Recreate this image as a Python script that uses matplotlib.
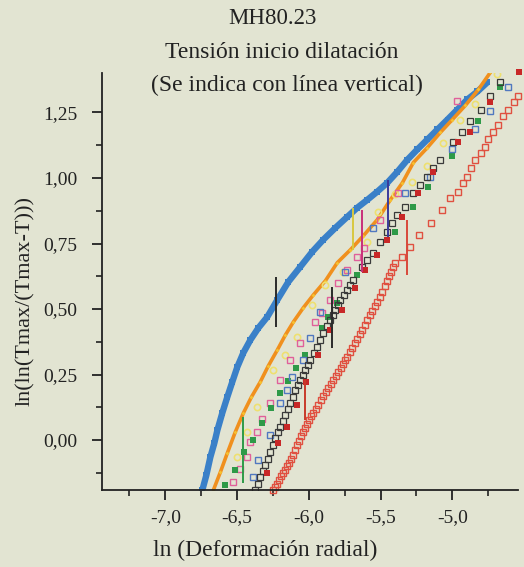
import matplotlib
matplotlib.use("Agg")
import matplotlib.pyplot as plt
from matplotlib.ticker import FixedLocator

plt.rcParams['font.family'] = ['Liberation Serif', 'DejaVu Serif']

# ---- data ----
blue_x = [-6.742, -6.714, -6.686, -6.658, -6.637, -6.603, -6.568, -6.533, -6.498, -6.456, -6.407,
          -6.351, -6.289, -6.219, -6.142, -6.059, -5.975, -5.898, -5.814, -5.731, -5.661, -5.591,
          -5.522, -5.452, -5.382, -5.312, -5.243, -5.173, -5.103, -5.033, -4.964, -4.894, -4.824, -4.755]
blue_y = [-0.191, -0.134, -0.065, -0.011, 0.038, 0.103, 0.164, 0.222, 0.279, 0.333, 0.382,
          0.428, 0.470, 0.535, 0.604, 0.661, 0.719, 0.765, 0.810, 0.852, 0.887, 0.917,
          0.948, 0.982, 1.024, 1.070, 1.109, 1.147, 1.185, 1.223, 1.261, 1.300, 1.330, 1.365]

orange_x = [-6.665, -6.616, -6.568, -6.512, -6.456, -6.400, -6.338, -6.282, -6.219, -6.163, -6.107,
            -6.038, -5.968, -5.884, -5.801, -5.710, -5.619, -5.522, -5.431, -5.347, -5.271, -5.173,
            -5.082, -4.999, -4.908, -4.817, -4.734]
orange_y = [-0.191, -0.122, -0.050, 0.031, 0.103, 0.164, 0.222, 0.283, 0.344, 0.401, 0.451,
            0.505, 0.554, 0.608, 0.677, 0.726, 0.780, 0.841, 0.917, 0.982, 1.059, 1.116,
            1.174, 1.223, 1.277, 1.338, 1.403]

yellow_x = [-6.498, -6.428, -6.358, -6.247, -6.163, -6.079, -5.975, -5.884, -5.759, -5.591, -5.515,
            -5.396, -5.278, -5.173, -5.061, -4.943, -4.838, -4.685]
yellow_y = [-0.065, 0.031, 0.126, 0.268, 0.325, 0.394, 0.516, 0.593, 0.642, 0.757, 0.872,
            0.937, 0.986, 1.044, 1.135, 1.223, 1.281, 1.395]

pink_x = [-6.526, -6.477, -6.428, -6.407, -6.358, -6.324, -6.268, -6.198, -6.128, -6.059, -5.954,
          -5.905, -5.849, -5.794, -5.731, -5.661, -5.612, -5.501, -5.375, -4.964]
pink_y = [-0.161, -0.111, -0.065, -0.008, 0.031, 0.080, 0.141, 0.229, 0.306, 0.371, 0.451,
          0.485, 0.535, 0.600, 0.650, 0.700, 0.734, 0.841, 0.944, 1.292]

green_x = [-6.582, -6.512, -6.449, -6.386, -6.324, -6.261, -6.198, -6.142, -6.086, -6.024, -5.905,
           -5.863, -5.801, -5.661, -5.522, -5.396, -5.271, -5.166, -4.999, -4.817, -4.664]
green_y = [-0.172, -0.115, -0.046, 0.000, 0.065, 0.122, 0.180, 0.226, 0.275, 0.325, 0.428,
           0.470, 0.524, 0.631, 0.707, 0.795, 0.891, 0.967, 1.082, 1.216, 1.346]

lblue_x = [-6.386, -6.351, -6.268, -6.198, -6.149, -6.114, -6.038, -5.989, -5.919, -5.745, -5.550,
           -5.326, -5.152, -4.999, -4.838, -4.734, -4.608]
lblue_y = [-0.141, -0.076, 0.019, 0.141, 0.191, 0.241, 0.306, 0.390, 0.489, 0.642, 0.810,
           0.944, 1.005, 1.109, 1.185, 1.254, 1.346]

black_x = [-6.372, -6.355, -6.338, -6.320, -6.303, -6.286, -6.268, -6.250, -6.233, -6.215, -6.198,
           -6.180, -6.163, -6.145, -6.128, -6.110, -6.093, -6.076, -6.059, -6.041, -6.024, -6.006,
           -5.989, -5.965, -5.940, -5.919, -5.898, -5.873, -5.849, -5.832, -5.815, -5.797, -5.780,
           -5.755, -5.731, -5.710, -5.689, -5.626, -5.591, -5.550, -5.501, -5.452, -5.417, -5.382,
           -5.326, -5.271, -5.222, -5.173, -5.131, -5.082, -4.992, -4.929, -4.873, -4.803, -4.734,
           -4.664]
black_y = [-0.191, -0.166, -0.141, -0.118, -0.096, -0.071, -0.046, -0.019, 0.008, 0.029, 0.050,
           0.073, 0.096, 0.118, 0.141, 0.166, 0.191, 0.210, 0.229, 0.248, 0.268, 0.287,
           0.306, 0.331, 0.356, 0.383, 0.409, 0.434, 0.459, 0.478, 0.497, 0.516, 0.535,
           0.554, 0.573, 0.592, 0.612, 0.661, 0.688, 0.715, 0.757, 0.795, 0.830, 0.860,
           0.891, 0.944, 0.975, 1.005, 1.040, 1.070, 1.139, 1.174, 1.216, 1.261, 1.311,
           1.365]

dred_x = [-6.289, -6.212, -6.149, -6.079, -6.017, -5.933, -5.849, -5.766, -5.675, -5.605, -5.522,
          -5.452, -5.347, -5.236, -5.131, -4.957, -4.873, -4.734, -4.538]
dred_y = [-0.126, -0.011, 0.050, 0.134, 0.222, 0.325, 0.420, 0.497, 0.581, 0.650, 0.707,
          0.765, 0.852, 0.944, 1.021, 1.139, 1.174, 1.288, 1.403]

red_x = [-6.247, -6.233, -6.219, -6.205, -6.191, -6.177, -6.163, -6.149, -6.135, -6.121, -6.107,
         -6.093, -6.079, -6.066, -6.052, -6.038, -6.024, -6.010, -5.996, -5.982, -5.968, -5.950,
         -5.933, -5.915, -5.898, -5.880, -5.863, -5.845, -5.828, -5.811, -5.794, -5.776, -5.759,
         -5.745, -5.731, -5.713, -5.696, -5.678, -5.661, -5.643, -5.626, -5.608, -5.591, -5.573,
         -5.556, -5.539, -5.522, -5.504, -5.487, -5.470, -5.452, -5.438, -5.424, -5.410, -5.396,
         -5.347, -5.291, -5.229, -5.145, -5.068, -5.013, -4.957, -4.922, -4.894, -4.866, -4.838,
         -4.803, -4.775, -4.748, -4.713, -4.678, -4.643, -4.608, -4.573, -4.545]
red_y = [-0.191, -0.178, -0.168, -0.152, -0.138, -0.127, -0.115, -0.100, -0.088, -0.073, -0.057,
         -0.037, -0.019, -0.002, 0.015, 0.031, 0.046, 0.062, 0.076, 0.090, 0.103, 0.119,
         0.134, 0.152, 0.168, 0.184, 0.199, 0.214, 0.229, 0.245, 0.260, 0.276, 0.291,
         0.304, 0.317, 0.335, 0.352, 0.369, 0.386, 0.403, 0.420, 0.440, 0.459, 0.476,
         0.493, 0.511, 0.528, 0.547, 0.566, 0.587, 0.608, 0.625, 0.642, 0.660, 0.677,
         0.700, 0.738, 0.784, 0.830, 0.879, 0.925, 0.948, 0.982, 1.005, 1.040, 1.070,
         1.097, 1.120, 1.147, 1.177, 1.204, 1.235, 1.261, 1.288, 1.311]

# start-of-dilatancy markers (vertical lines)
vline_x = [-6.226, -6.456, -6.024, -5.835, -5.689, -5.626, -5.445, -5.312]
vline_lo = [0.432, -0.164, 0.076, 0.352, 0.726, 0.642, 0.776, 0.631]
vline_hi = [0.623, 0.088, 0.229, 0.585, 0.887, 0.879, 0.994, 0.841]
vline_col = ['#2a2a2a', '#2e9a48', '#c83a2a', '#2a2a2a', '#d8c840', '#c8307a', '#3a3a9a', '#d8483a']

xticks = [-7.0, -6.5, -6.0, -5.5, -5.0]
xticklabels = ['-7,0', '-6,5', '-6,0', '-5,5', '-5,0']
yticks = [0.0, 0.25, 0.5, 0.75, 1.0, 1.25]
yticklabels = ['0,00', '0,25', '0,50', '0,75', '1,00', '1,25']

bg = '#e2e4d2'
ink = '#222222'

fig = plt.figure(figsize=(5.24, 5.67), dpi=100, facecolor=bg)
ax = fig.add_axes([0.195, 0.136, 0.794, 0.735], facecolor=bg)

# series
ax.plot(blue_x, blue_y, '-', color='#3a80c8', lw=4.6, solid_capstyle='butt')
ax.plot(blue_x, blue_y, 's', color='#3a80c8', ms=4, mew=0)
ax.plot(orange_x, orange_y, '-', color='#f0901e', lw=2.6)
ax.plot(orange_x, orange_y, 'D', color='#f5c030', ms=2.0, mew=0)
ax.plot(yellow_x, yellow_y, 'o', mfc='none', mec='#eee070', ms=4.5, mew=1.2)
ax.plot(pink_x, pink_y, 's', mfc='none', mec='#e0609a', ms=4.2, mew=1.0)
ax.plot(green_x, green_y, 's', color='#2e9a48', ms=4.2, mew=0)
ax.plot(lblue_x, lblue_y, 's', mfc='none', mec='#5078c0', ms=4.6, mew=1.0)
ax.plot(black_x, black_y, 's', mfc='none', mec='#3a3a3a', ms=4.0, mew=0.9)
ax.plot(dred_x, dred_y, 's', color='#c82828', ms=4.2, mew=0, clip_on=False)
ax.plot(red_x, red_y, 's', mfc='none', mec='#e05040', ms=4.2, mew=1.0, clip_on=False)

for x, lo, hi, c in zip(vline_x, vline_lo, vline_hi, vline_col):
    ax.vlines(x, lo, hi, colors=c, lw=1.4)

ax.set_xlim(-7.44, -4.54)
ax.set_ylim(-0.19, 1.40)

for s in ['top', 'right']:
    ax.spines[s].set_visible(False)
for s in ['left', 'bottom']:
    ax.spines[s].set_color(ink)
    ax.spines[s].set_linewidth(1.3)

ax.xaxis.set_major_locator(FixedLocator(xticks))
ax.set_xticklabels(xticklabels)
ax.xaxis.set_minor_locator(FixedLocator([-7.25, -6.75, -6.25, -5.75, -5.25, -4.75]))
ax.yaxis.set_major_locator(FixedLocator(yticks))
ax.set_yticklabels(yticklabels)
ax.yaxis.set_minor_locator(FixedLocator([-0.125, 0.125, 0.375, 0.625, 0.875, 1.125]))

ax.tick_params(which='major', length=7, width=1.3, color=ink, labelsize=14,
               labelcolor=ink)
ax.tick_params(axis='x', which='major', pad=7)
ax.tick_params(axis='y', which='major', pad=11)
ax.tick_params(which='minor', length=4, width=1.2, color=ink)

fig.text(0.506, 0.030, 'ln (Deformación radial)', ha='center', va='center', fontsize=17, color=ink)
fig.text(0.048, 0.47, 'ln(ln(Tmax/(Tmax-T)))', ha='center', va='center', rotation=90,
         fontsize=16, color=ink)

fig.text(0.52, 0.968, 'MH80.23', ha='center', va='center', fontsize=16.5, color=ink)
fig.text(0.538, 0.908, 'Tensión inicio dilatación', ha='center', va='center', fontsize=17, color=ink)
fig.text(0.548, 0.849, '(Se indica con línea vertical)', ha='center', va='center', fontsize=17, color=ink)

fig.savefig('out.png', dpi=100, facecolor=bg)
